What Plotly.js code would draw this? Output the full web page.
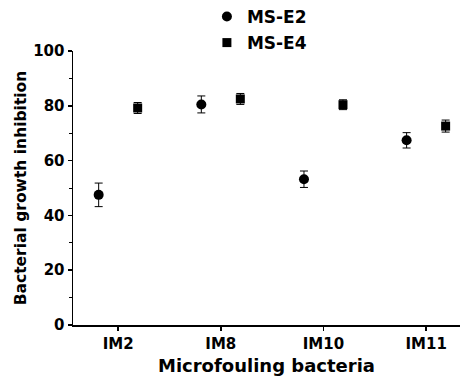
<!DOCTYPE html>
<html>
<head>
<meta charset="utf-8">
<script src="https://cdn.plot.ly/plotly-3.0.1.min.js"></script>
<style>html,body{margin:0;padding:0;background:#fff;}#chart{width:460px;height:376px;}</style>
</head>
<body>
<div id="chart"></div>
<script>
const categories = ["IM2", "IM8", "IM10", "IM11"];
const seriesNames = ["MS-E2", "MS-E4"];
const msE2 = [47.5, 80.5, 53.2, 67.4];
const msE2Err = [4.3, 3.1, 3.0, 2.8];
const msE4 = [79.2, 82.5, 80.4, 72.6];
const msE4Err = [2.0, 2.0, 1.8, 2.2];
const yTicks = [0, 20, 40, 60, 80, 100];

const offset = 0.19;
const idx = categories.map((c, i) => i);
const font = "DejaVu Sans, Liberation Sans, Arial, sans-serif";
const b = s => "<b>" + s + "</b>";

const traces = [
  {
    type: "scatter", mode: "markers", name: b(seriesNames[0]), legendgroup: "a",
    x: idx.map(i => i - offset), y: msE2,
    marker: {symbol: "circle", size: 10, color: "#000"},
    error_y: {type: "data", array: msE2Err, visible: true, color: "#000", thickness: 1, width: 4},
    hoverinfo: "y"
  },
  {
    type: "scatter", mode: "markers", name: b(seriesNames[1]), legendgroup: "b",
    x: idx.map(i => i + offset), y: msE4,
    marker: {symbol: "square", size: 9, color: "#000"},
    error_y: {type: "data", array: msE4Err, visible: true, color: "#000", thickness: 1, width: 4},
    hoverinfo: "y"
  }
];

const layout = {
  width: 460, height: 376,
  margin: {l: 73, r: 0, t: 51, b: 51, autoexpand: false},
  paper_bgcolor: "#fff", plot_bgcolor: "#fff",
  font: {family: font, color: "#000", size: 15},
  showlegend: true,
  legend: {x: 0.346, xanchor: "left", y: 1.19, yanchor: "top", traceorder: "grouped", tracegroupgap: 1,
           font: {family: font, size: 17, color: "#000"},
           bgcolor: "rgba(0,0,0,0)", itemwidth: 30},
  xaxis: {
    range: [-0.44, 3.33], tickmode: "array", tickvals: idx, ticktext: categories.map(b),
    showgrid: false, zeroline: false, showline: true, linecolor: "#000", linewidth: 1.5,
    ticks: "outside", ticklen: 4, tickcolor: "#000", tickwidth: 1.5,
    tickfont: {family: font, size: 15},
    title: {text: b("Microfouling bacteria"), font: {family: font, size: 18}, standoff: 9}
  },
  yaxis: {
    range: [0, 100], tickmode: "array", tickvals: yTicks, ticktext: yTicks.map(v => b(String(v))),
    showgrid: false, zeroline: false, showline: true, linecolor: "#000", linewidth: 1.5,
    ticks: "outside", ticklen: 4, tickcolor: "#000", tickwidth: 1.5,
    minor: {dtick: 10, ticks: "outside", ticklen: 3, tickcolor: "#000", tickwidth: 1},
    tickfont: {family: font, size: 15},
    title: {text: b("Bacterial growth inhibition"), font: {family: font, size: 15.5}, standoff: 3}
  }
};

Plotly.newPlot("chart", traces, layout, {displayModeBar: false, staticPlot: true});
</script>
</body>
</html>
